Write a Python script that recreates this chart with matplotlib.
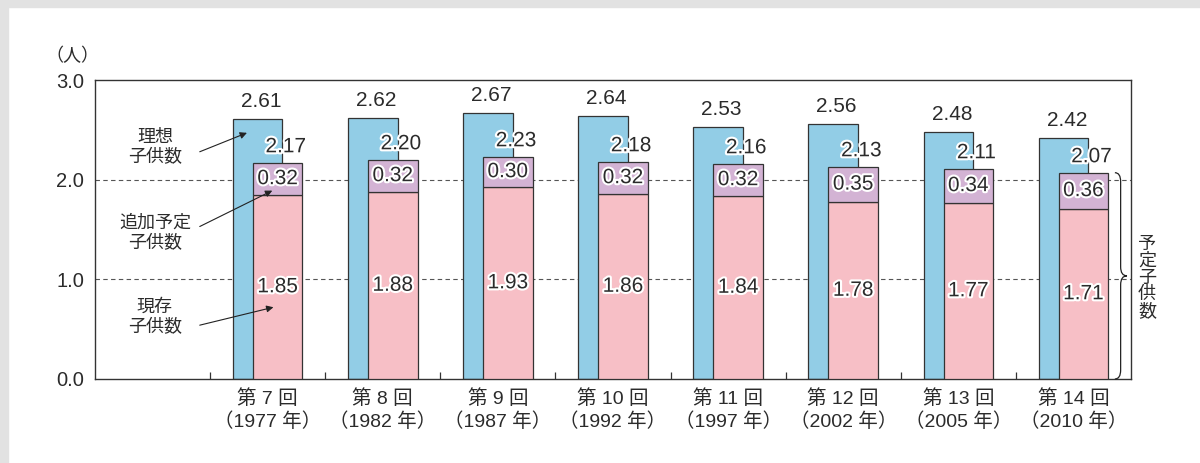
import matplotlib
matplotlib.use("Agg")
import matplotlib.pyplot as plt
import matplotlib.patheffects as pe
from matplotlib.patches import Rectangle, PathPatch
from matplotlib.path import Path
import numpy as np

plt.rcParams['font.family'] = ['Liberation Sans', 'Noto Sans CJK JP', 'DejaVu Sans']

# data
rounds = ['第 7 回', '第 8 回', '第 9 回', '第 10 回', '第 11 回', '第 12 回', '第 13 回', '第 14 回']
years = ['1977', '1982', '1987', '1992', '1997', '2002', '2005', '2010']
ideal = [2.61, 2.62, 2.67, 2.64, 2.53, 2.56, 2.48, 2.42]
planned_total = [2.17, 2.20, 2.23, 2.18, 2.16, 2.13, 2.11, 2.07]
existing = [1.85, 1.88, 1.93, 1.86, 1.84, 1.78, 1.77, 1.71]
additional = [0.32, 0.32, 0.30, 0.32, 0.32, 0.35, 0.34, 0.36]

blue = '#92cde6'
pink = '#f7bfc6'
purple = '#d3b3d4'
edge = '#333333'
txt = '#2b2b2b'
outline = [pe.withStroke(linewidth=3, foreground='white')]
numsize = 15

fig = plt.figure(figsize=(12, 4.63), dpi=100)
fig.patch.set_facecolor('white')
# light gray frame on top and left
fig.add_artist(Rectangle((0, 1 - 7 / 463), 1, 7 / 463, transform=fig.transFigure, color='#e2e2e2', zorder=0))
fig.add_artist(Rectangle((0, 0), 8 / 1200, 1, transform=fig.transFigure, color='#e2e2e2', zorder=0))

ax = fig.add_axes([95 / 1200, 1 - 379 / 463, 1036 / 1200, 299 / 463])
x = np.arange(len(rounds))
w = 0.43
off = 0.087

# dashed gridlines
for gy in [1.0, 2.0]:
    ax.axhline(gy, color='#555555', lw=0.8, ls=(0, (4, 3)), zorder=0)

ax.bar(x - off, ideal, w, color=blue, edgecolor=edge, lw=0.9, zorder=2)
ax.bar(x + off, existing, w, color=pink, edgecolor=edge, lw=0.9, zorder=3)
ax.bar(x + off, additional, w, bottom=existing, color=purple, edgecolor=edge, lw=0.9, zorder=3)

for i in range(len(rounds)):
    ax.text(x[i] - off + 0.03, ideal[i] + 0.17, f'{ideal[i]:.2f}', ha='center', va='center',
            fontsize=numsize, color=txt, zorder=5)
    ax.text(x[i] + off + 0.07, planned_total[i] + 0.16, f'{planned_total[i]:.2f}', ha='center', va='center',
            fontsize=numsize, color=txt, path_effects=outline, zorder=5)
    ax.text(x[i] + off, existing[i] + additional[i] / 2, f'{additional[i]:.2f}', ha='center', va='center',
            fontsize=numsize, color=txt, path_effects=outline, zorder=5)
    ax.text(x[i] + off, existing[i] / 2, f'{existing[i]:.2f}', ha='center', va='center',
            fontsize=numsize, color=txt, path_effects=outline, zorder=5)

ax.set_xlim(-1.5, 7.5)
ax.set_ylim(0, 3.0)
ax.set_yticks([0, 1, 2, 3])
ax.set_yticklabels(['0.0', '1.0', '2.0', '3.0'], fontsize=14.5, color=txt)
ax.tick_params(axis='y', length=0, pad=8)
ax.set_xticks(x)
ax.set_xticklabels([f'{r}\n（{y} 年）' for r, y in zip(rounds, years)], fontsize=14, color=txt, linespacing=1.3)
ax.set_xticks(np.arange(-0.5, 7, 1.0), minor=True)
ax.tick_params(axis='x', which='major', length=0, pad=7)
ax.tick_params(axis='x', which='minor', direction='in', length=5, width=0.9, color=edge)
for s in ax.spines.values():
    s.set_color(edge)
    s.set_linewidth(1.0)

# left side labels with arrows
ax.text(-0.98, 2.32, '理想\n子供数', ha='center', va='center', fontsize=13, color=txt, linespacing=1.25)
ax.text(-0.98, 1.46, '追加予定\n子供数', ha='center', va='center', fontsize=13, color=txt, linespacing=1.25)
ax.text(-0.98, 0.62, '現存\n子供数', ha='center', va='center', fontsize=13, color=txt, linespacing=1.25)
arrow = dict(arrowstyle='-|>', lw=0.8, color='#222222', mutation_scale=10, shrinkA=0, shrinkB=0)
ax.annotate('', xy=(-0.18, 2.47), xytext=(-0.59, 2.28), arrowprops=arrow, zorder=6)
ax.annotate('', xy=(0.04, 1.89), xytext=(-0.59, 1.53), arrowprops=arrow, zorder=6)
ax.annotate('', xy=(0.05, 0.72), xytext=(-0.59, 0.54), arrowprops=arrow, zorder=6)

# brace on the right
x0, xm, x1 = 7.36, 7.41, 7.465
top, bot = planned_total[-1], 0.0
mid = (top + bot) / 2
r = 0.09
verts = [(x0, top), (xm, top), (xm, top - r),
         (xm, mid + r), (xm, mid), (x1, mid),
         (xm, mid), (xm, mid - r),
         (xm, bot + r), (xm, bot), (x0, bot)]
codes = [Path.MOVETO, Path.CURVE3, Path.CURVE3,
         Path.LINETO, Path.CURVE3, Path.CURVE3,
         Path.CURVE3, Path.CURVE3,
         Path.LINETO, Path.CURVE3, Path.CURVE3]
ax.add_patch(PathPatch(Path(verts, codes), fill=False, lw=0.9, edgecolor='#222222', clip_on=False, zorder=6))

fig.text(1147 / 1200, 1 - 278 / 463, '\n'.join('予定子供数'), ha='center', va='center',
         fontsize=13, color=txt, linespacing=0.98)
fig.text(72 / 1200, 1 - 56 / 463, '（人）', ha='center', va='center', fontsize=13, color=txt)

fig.savefig('out.png', dpi=100)
